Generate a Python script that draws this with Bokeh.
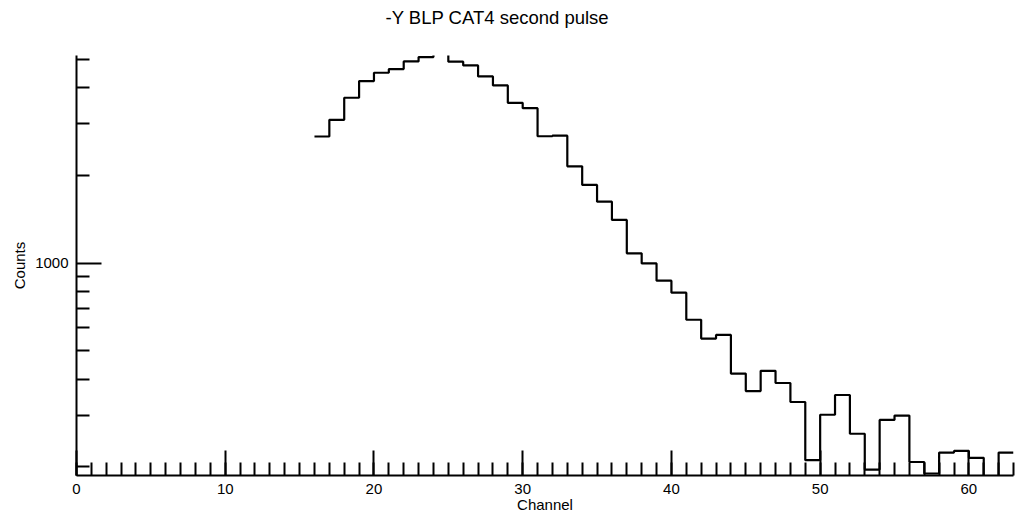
from bokeh.plotting import figure
from bokeh.models import Range1d, FixedTicker, SingleIntervalTicker, PrintfTickFormatter, Title
from bokeh.embed import file_html
from bokeh.resources import INLINE

# ---- data ----
channels = [16, 17, 18, 19, 20, 21, 22, 23, 24, 25, 26, 27, 28, 29, 30, 31, 32, 33, 34,
            35, 36, 37, 38, 39, 40, 41, 42, 43, 44, 45, 46, 47, 48, 49, 50, 51, 52, 53,
            54, 55, 56, 57, 58, 59, 60, 61, 62]
counts = [2713, 3095, 3684, 4201, 4487, 4617, 4907, 5076, 5400, 4895, 4754, 4359, 4059,
          3540, 3394, 2719, 2730, 2145, 1852, 1623, 1405, 1079, 997, 870, 791, 639, 551,
          567, 418, 364, 427, 388, 334, 211, 302, 353, 260, 196, 290, 300, 208, 190, 224,
          227, 215, 180, 224]
y_major_ticks = [1000]
y_minor_ticks = [200, 300, 400, 500, 600, 700, 800, 900, 2000, 3000, 4000, 5000]
title_text = "-Y BLP CAT4 second pulse"
x_label = "Channel"
y_label = "Counts"

# step edges: each bin drawn from its channel to the next
xs = channels + [channels[-1] + 1]
ys = counts + [counts[-1]]

FONT = "Liberation Sans"

p = figure(width=1016, height=519, output_backend="svg", toolbar_location=None,
           y_axis_type="log",
           x_range=Range1d(0, 63), y_range=Range1d(187, 5141),
           min_border_left=76, min_border_right=3, min_border_top=55, min_border_bottom=44)

# spacer between frame and title, then the title itself (further from the frame)
p.add_layout(Title(text=" ", text_font_size="1px", standoff=25), "above")
p.add_layout(Title(text=title_text, align="left", offset=309, text_font=FONT,
                   text_font_size="18.5px", text_font_style="normal", text_color="black",
                   vertical_align="bottom", standoff=0), "above")

p.step(xs, ys, mode="after", line_color="black", line_width=2.2)

p.grid.visible = False
p.outline_line_color = None
p.background_fill_color = "white"
p.border_fill_color = "white"

# x axis
xa = p.xaxis[0]
xa.ticker = SingleIntervalTicker(interval=10, num_minor_ticks=10)
# y axis
ya = p.yaxis[0]
ya.ticker = FixedTicker(ticks=y_major_ticks, minor_ticks=y_minor_ticks)
ya.formatter = PrintfTickFormatter(format="%d")
ya.axis_label = y_label

for ax in (xa, ya):
    ax.axis_line_width = 2
    ax.axis_line_color = "black"
    ax.major_tick_in = 25
    ax.major_tick_out = 0
    ax.minor_tick_in = 13
    ax.minor_tick_out = 0
    ax.major_tick_line_width = 2
    ax.minor_tick_line_width = 2
    ax.major_tick_line_color = "black"
    ax.minor_tick_line_color = "black"
    ax.major_label_text_font = FONT
    ax.major_label_text_font_size = "15px"
    ax.major_label_text_color = "black"
    ax.axis_label_text_font = FONT
    ax.axis_label_text_font_size = "15px"
    ax.axis_label_text_font_style = "normal"
    ax.axis_label_text_color = "black"

xa.major_label_standoff = 8
ya.major_label_standoff = 8
ya.axis_label_standoff = 4

# x-axis label as a title below the axis
p.add_layout(Title(text=x_label, align="center", text_font=FONT, text_font_size="15px",
                   text_font_style="normal", text_color="black",
                   vertical_align="top", standoff=-2), "below")

open("out.html", "w").write(file_html(p, INLINE))
